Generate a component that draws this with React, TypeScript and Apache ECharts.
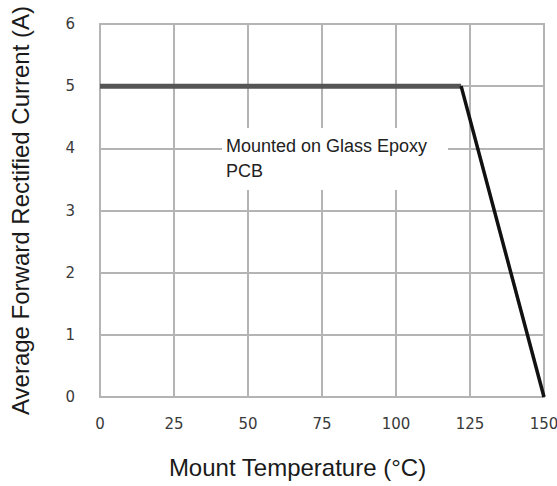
import React, { useEffect, useRef } from "react";
import * as echarts from "echarts";

const xTicks = [0, 25, 50, 75, 100, 125, 150];
const yTicks = [0, 1, 2, 3, 4, 5, 6];
const flatTemps = [0, 122];
const flatCurrent = [5, 5];
const slopeTemps = [122, 150];
const slopeCurrent = [5, 0];
const noteLines = ["Mounted on Glass Epoxy", "PCB"];

export default function App() {
  const ref = useRef<HTMLDivElement>(null);
  useEffect(() => {
    if (!ref.current) return;
    const chart = echarts.init(ref.current, null, { renderer: "svg" });
    const gridColor = "#b4b4b4";
    chart.setOption({
      animation: false,
      backgroundColor: "#ffffff",
      grid: {
        left: 100,
        right: 13,
        top: 24,
        bottom: 89,
        show: true,
        borderColor: gridColor,
        borderWidth: 2,
        containLabel: false,
        outerBoundsMode: "none",
      },
      xAxis: {
        type: "value",
        min: xTicks[0],
        max: xTicks[xTicks.length - 1],
        interval: 25,
        name: "Mount Temperature (°C)",
        nameLocation: "middle",
        nameGap: 58,
        nameTextStyle: {
          fontFamily: "Liberation Sans",
          fontSize: 24,
          color: "#1a1a1a",
          padding: [0, 49, 0, 0],
        },
        axisLine: { show: true, lineStyle: { color: gridColor, width: 2 } },
        axisTick: { show: false },
        axisLabel: { margin: 19, fontFamily: "DejaVu Sans", fontSize: 15, color: "#3a3a3a" },
        splitLine: { show: true, lineStyle: { color: gridColor, width: 2 } },
      },
      yAxis: {
        type: "value",
        min: yTicks[0],
        max: yTicks[yTicks.length - 1],
        interval: 1,
        name: "Average Forward Rectified Current (A)",
        nameLocation: "middle",
        nameGap: 68,
        nameTextStyle: {
          fontFamily: "Liberation Sans",
          fontSize: 24,
          color: "#1a1a1a",
        },
        axisLine: { show: true, lineStyle: { color: gridColor, width: 2 } },
        axisTick: { show: false },
        axisLabel: {
          margin: 25,
          fontFamily: "DejaVu Sans",
          fontSize: 15,
          color: "#3a3a3a",
          padding: [8, 0, 0, 0],
        },
        splitLine: { show: true, lineStyle: { color: gridColor, width: 2 } },
      },
      series: [
        {
          type: "line",
          data: flatTemps.map((t, i) => [t, flatCurrent[i]]),
          symbol: "none",
          lineStyle: { color: "#555555", width: 5 },
          z: 3,
        },
        {
          type: "line",
          data: slopeTemps.map((t, i) => [t, slopeCurrent[i]]),
          symbol: "none",
          lineStyle: { color: "#111111", width: 3.5 },
          z: 4,
        },
      ],
      graphic: [
        {
          type: "rect",
          shape: { x: 222, y: 128, width: 226, height: 62 },
          style: { fill: "#ffffff" },
          z: 10,
        },
        {
          type: "text",
          x: 226,
          y: 133,
          style: {
            text: noteLines.join("\n"),
            fontFamily: "Liberation Sans",
            fontSize: 18,
            lineHeight: 25,
            fill: "#222",
          },
          z: 11,
        },
      ],
    });
    return () => chart.dispose();
  }, []);
  return (
    <div
      ref={ref}
      style={{ position: "fixed", left: 0, top: 0, width: 557, height: 486 }}
    />
  );
}
